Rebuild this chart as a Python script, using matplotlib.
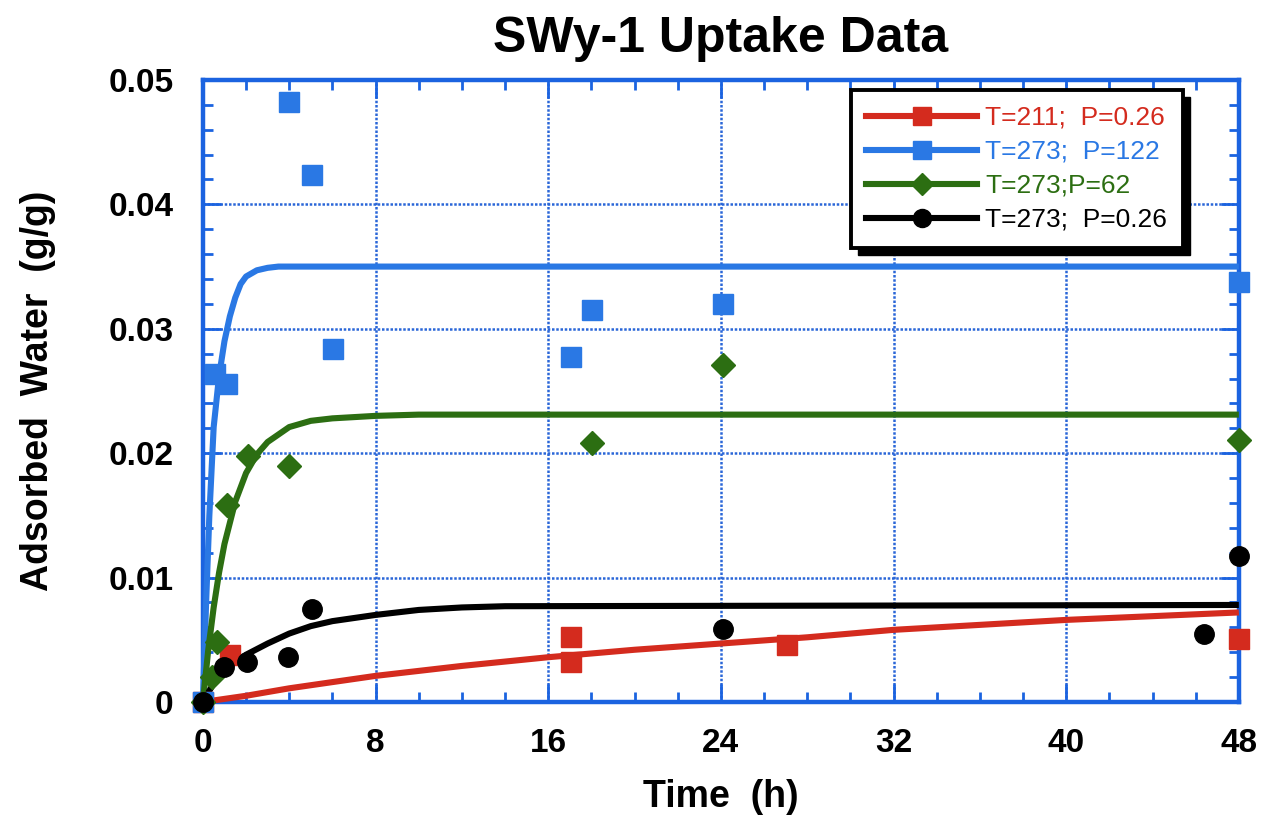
import matplotlib
matplotlib.use("Agg")
import matplotlib.pyplot as plt
from matplotlib.lines import Line2D
from matplotlib.patches import Rectangle
from matplotlib.ticker import MultipleLocator, FuncFormatter

# ---- measured uptake points ----
t_211_026 = [0, 1.25, 17.05, 17.05, 27.05, 48]
w_211_026 = [0, 0.0038, 0.0052, 0.0032, 0.0046, 0.0051]

t_273_122 = [0, 0.56, 1.1, 4.0, 5.05, 6.05, 17.05, 18.05, 24.1, 48]
w_273_122 = [0, 0.0264, 0.0256, 0.0482, 0.0424, 0.0284, 0.0277, 0.0315, 0.0320, 0.0338]

t_273_62 = [0, 0.42, 0.65, 1.1, 2.1, 4.0, 18.05, 24.1, 48]
w_273_62 = [0, 0.0020, 0.0048, 0.0158, 0.0198, 0.0190, 0.0208, 0.0271, 0.0211]

t_273_026 = [0, 1.0, 2.05, 3.95, 5.05, 24.1, 46.4, 48]
w_273_026 = [0, 0.0028, 0.0032, 0.0036, 0.0075, 0.0059, 0.0055, 0.0117]

# ---- model (fit) curves ----
fit_t_211 = [0, 2, 4, 8, 12, 16, 20, 24, 28, 32, 36, 40, 44, 48]
fit_w_211 = [0, 0.0005, 0.0011, 0.0021, 0.0029, 0.0036, 0.0042, 0.0047,
             0.0052, 0.0058, 0.0062, 0.0066, 0.0069, 0.0072]

fit_t_122 = [0, 0.15, 0.3, 0.5, 0.75, 1.0, 1.25, 1.5, 1.75, 2.0, 2.5, 3.0, 3.5, 4.0, 48]
fit_w_122 = [0, 0.0080, 0.0150, 0.0221, 0.0262, 0.0290, 0.0310, 0.0325, 0.0336, 0.0342,
             0.0347, 0.0349, 0.0350, 0.0350, 0.0350]

fit_t_62 = [0, 0.25, 0.5, 0.75, 1.0, 1.5, 2.0, 2.5, 3.0, 4.0, 5.0, 6.0, 8.0, 10.0, 48]
fit_w_62 = [0, 0.0042, 0.0076, 0.0104, 0.0127, 0.0161, 0.0184, 0.0199, 0.0209,
            0.0221, 0.0226, 0.0228, 0.0230, 0.0231, 0.0231]

fit_t_026 = [0, 0.5, 1, 2, 3, 4, 5, 6, 8, 10, 12, 14, 48]
fit_w_026 = [0, 0.0015, 0.0026, 0.0038, 0.0047, 0.0055, 0.0061, 0.0065,
             0.0070, 0.0074, 0.0076, 0.0077, 0.0078]

labels = ["T=211;  P=0.26", "T=273;  P=122", "T=273;P=62", "T=273;  P=0.26"]
colors = ["#d42b1e", "#2a78e4", "#2c6e12", "#000000"]
markers = ["s", "s", "D", "o"]
msizes = [14, 14, 12, 14]

x_ticks = [0, 8, 16, 24, 32, 40, 48]
y_ticks = [0, 0.01, 0.02, 0.03, 0.04, 0.05]

frame_blue = "#1b63e0"
grid_blue = "#2a66d8"

plt.rcParams["font.family"] = ["Liberation Sans", "DejaVu Sans"]

fig = plt.figure(figsize=(12.68, 8.16), dpi=100)
ax = fig.add_axes([0.160, 0.1397, 0.817, 0.7623])

series = [
    (t_211_026, w_211_026, fit_t_211, fit_w_211),
    (t_273_122, w_273_122, fit_t_122, fit_w_122),
    (t_273_62, w_273_62, fit_t_62, fit_w_62),
    (t_273_026, w_273_026, fit_t_026, fit_w_026),
]

for i, (tx, wy, ft, fw) in enumerate(series):
    ax.plot(ft, fw, color=colors[i], lw=4.4, solid_capstyle="butt", zorder=3 + i * 0.1,
            clip_on=False)
for i, (tx, wy, ft, fw) in enumerate(series):
    ax.plot(tx, wy, linestyle="none", marker=markers[i], ms=msizes[i],
            color=colors[i], mec=colors[i], zorder=5 + i * 0.1, clip_on=False)

ax.set_xlim(0, 48)
ax.set_ylim(0, 0.05)
ax.xaxis.set_minor_locator(MultipleLocator(2))
ax.yaxis.set_minor_locator(MultipleLocator(0.002))
ax.set_xticks(x_ticks)
ax.set_yticks(y_ticks)
ax.yaxis.set_major_formatter(FuncFormatter(lambda v, p: "0" if abs(v) < 1e-12 else f"{v:.2f}"))

ax.grid(True, which="major", color=grid_blue, linestyle=(0, (1, 0.7)), lw=1.8, zorder=1)
for sp in ax.spines.values():
    sp.set_color(frame_blue)
    sp.set_linewidth(3.2)
    sp.set_zorder(2)

ax.tick_params(which="both", direction="in", top=True, right=True, color=frame_blue,
               width=2.0)
ax.tick_params(which="major", length=13)
ax.tick_params(which="minor", length=7)
ax.tick_params(axis="x", which="major", pad=19, labelsize=24)
ax.tick_params(axis="y", which="major", pad=21, labelsize=24)
for lab in ax.get_xticklabels() + ax.get_yticklabels():
    lab.set_fontweight("bold")

ax.set_xlabel("Time  (h)", fontsize=27, fontweight="bold", labelpad=14)
ax.set_ylabel("Adsorbed  Water  (g/g)", fontsize=27, fontweight="bold", labelpad=38)
ax.set_title("SWy-1 Uptake Data", fontsize=36, fontweight="bold", pad=20)

handles = [Line2D([], [], color=colors[i], lw=4.4, marker=markers[i], ms=msizes[i] - 1,
                  mec=colors[i]) for i in range(4)]
leg = ax.legend(handles, labels, loc="upper right", bbox_to_anchor=(0.946, 0.984),
                fontsize=19, frameon=True, fancybox=False, handlelength=4.2,
                handletextpad=0.3, labelspacing=0.38, borderpad=0.6,
                labelcolor=colors, borderaxespad=0.0, framealpha=1.0,
                facecolor="white")
leg.get_frame().set_edgecolor("black")
leg.get_frame().set_linewidth(2.8)
leg.set_zorder(10)

# solid drop shadow behind the legend box
fig.canvas.draw()
bb = leg.get_window_extent().transformed(ax.transAxes.inverted())
dx = 7 / (ax.bbox.width)
dy = 7 / (ax.bbox.height)
shadow = Rectangle((bb.x0 + dx, bb.y0 - dy), bb.width, bb.height, transform=ax.transAxes,
                   facecolor="black", edgecolor="black", zorder=9)
ax.add_patch(shadow)

fig.savefig("out.png", dpi=100)
